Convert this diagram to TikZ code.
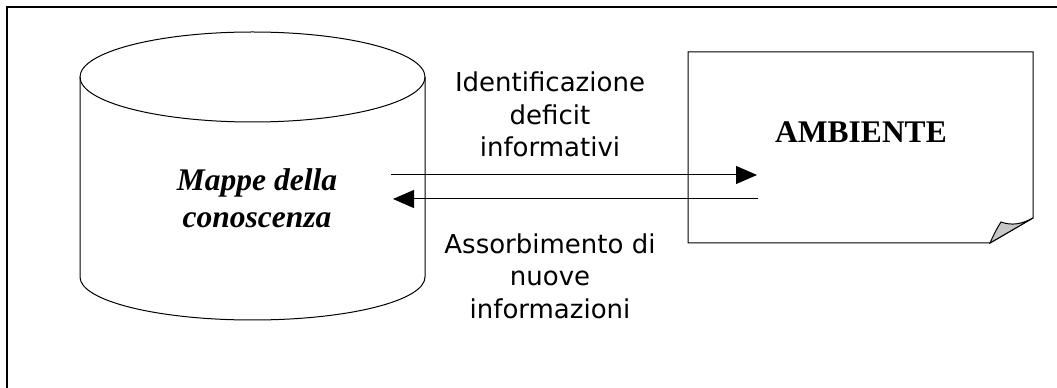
\documentclass[tikz,border=0pt]{standalone}
\usepackage{fontspec}
\setmainfont{Liberation Serif}
\newfontfamily\labelsans{DejaVu Sans}
\usetikzlibrary{arrows.meta}
\tikzset{
  frameline/.style={line width=1.6pt, black},
  shapeline/.style={line width=1pt, black},
  flow/.style={line width=1pt, black, -{Triangle[length=21pt,width=18pt]}},
  sanslabel/.style={align=center, inner sep=0pt, font=\labelsans\fontsize{26}{32.5}\selectfont},
  seriflabel/.style={align=center, inner sep=0pt, font=\fontsize{31.5}{37}\selectfont\bfseries\itshape},
}
\begin{document}
\begin{tikzpicture}[x=1pt,y=1pt]
\useasboundingbox (0,0) rectangle (1057,388);
% outer frame (cut off on right and bottom)
\draw[frameline] (7,0) -- (7,381) -- (1057,381);
% cylinder
\draw[shapeline] (80,311) -- (80,111) arc[start angle=180, end angle=360, x radius=172.5, y radius=43] -- (425,311);
\draw[shapeline] (252.5,311) ellipse[x radius=172.5, y radius=45];
\node[seriflabel] (mappe) at (257,189.5) {Mappe della\\conoscenza};
% document shape with folded corner
\draw[shapeline] (688,336) -- (1033,336) -- (1033,170) -- (990,145) -- (688,145) -- cycle;
\filldraw[shapeline, fill=black!22] (990,145) .. controls (994,154) and (997,160) .. (1001,166)
  .. controls (1012,162) and (1022,164) .. (1033,170) -- cycle;
\node[anchor=base, inner sep=0pt, font=\fontsize{31.5}{37}\selectfont\bfseries] (amb) at (861,245) {AMBIENTE};
% connectors
\coordinate (topstart) at (391,213);
\coordinate (topend) at (757,213);
\coordinate (botstart) at (758,189);
\coordinate (botend) at (393,189);
\draw[flow] (topstart) -- (topend);
\draw[flow] (botstart) -- (botend);
% labels
\node[sanslabel] (idlabel) at (550,273.4) {Identificazione\\deficit\\informativi};
\node[sanslabel] (asslabel) at (550,111.9) {Assorbimento di\\nuove\\informazioni};
\end{tikzpicture}
\end{document}
